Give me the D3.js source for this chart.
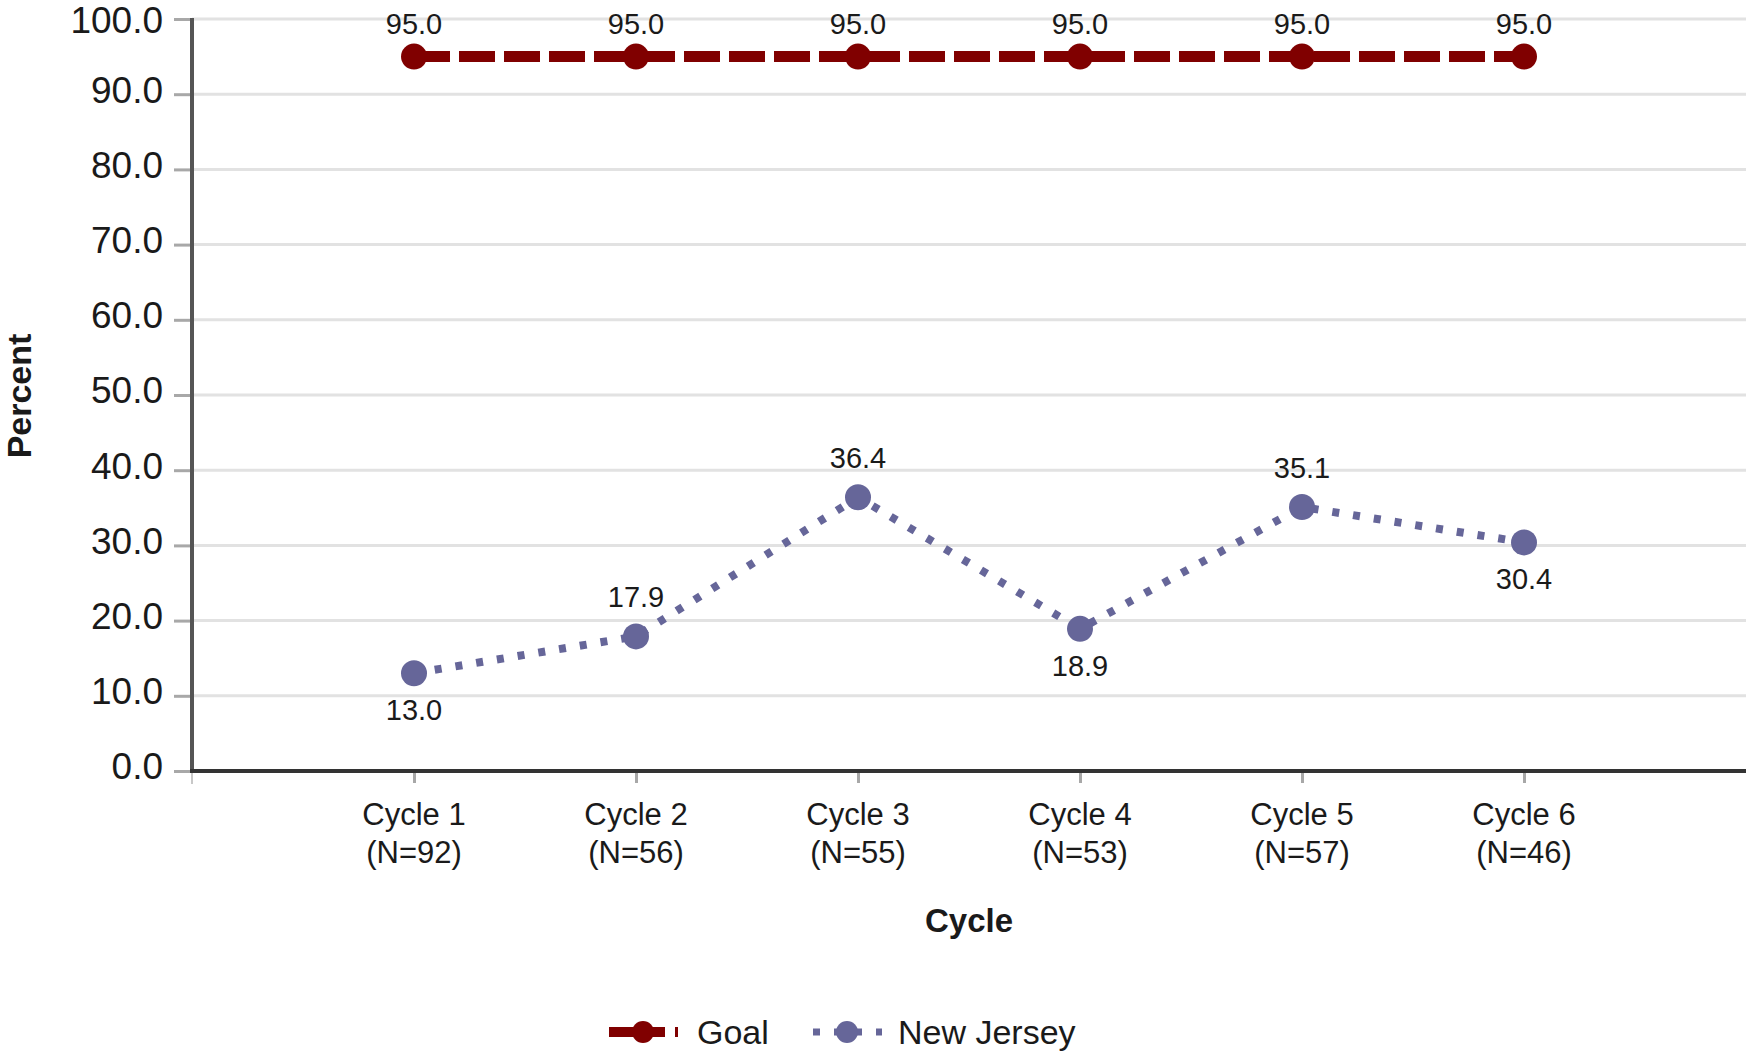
<!DOCTYPE html>
<html>
<head>
<meta charset="utf-8">
<script src="https://cdn.jsdelivr.net/npm/d3@7"></script>
<style>
  body { margin: 0; background: #fff; }
  text { font-family: "Liberation Sans", Arial, sans-serif; fill: #1a1a1a; }
</style>
</head>
<body>
<div id="chart"></div>
<script>
// chart data
var cycles = ["Cycle 1", "Cycle 2", "Cycle 3", "Cycle 4", "Cycle 5", "Cycle 6"];
var counts = ["(N=92)", "(N=56)", "(N=55)", "(N=53)", "(N=57)", "(N=46)"];
var goalValues = [95.0, 95.0, 95.0, 95.0, 95.0, 95.0];
var njValues = [13.0, 17.9, 36.4, 18.9, 35.1, 30.4];
var njLabelPos = ["below", "above", "above", "below", "above", "below"];
var yTicks = [0, 10, 20, 30, 40, 50, 60, 70, 80, 90, 100];

var W = 1746, H = 1051;
var margin = { top: 19, left: 192, right: 0, bottom: 277 };

var svg = d3.select("#chart").append("svg")
    .attr("width", W).attr("height", H);

var x = d3.scalePoint()
    .domain(cycles)
    .range([margin.left, W - margin.right])
    .padding(1);

var y = d3.scaleLinear()
    .domain([0, 100])
    .range([H - margin.bottom - 3, margin.top]);

// gridlines
svg.append("g").selectAll("line")
    .data(yTicks.filter(d => d > 0))
    .enter().append("line")
    .attr("x1", margin.left).attr("x2", W)
    .attr("y1", d => y(d)).attr("y2", d => y(d))
    .attr("stroke", "#e2e2e2").attr("stroke-width", 3);

// y axis
var yAxis = svg.append("g")
    .attr("transform", "translate(" + margin.left + ",0)")
    .call(d3.axisLeft(y).tickValues(yTicks).tickFormat(d3.format(".1f")).tickSize(18).tickPadding(11));
yAxis.select(".domain").remove();
yAxis.selectAll(".tick line").attr("stroke", "#a8a8a8").attr("stroke-width", 3);
yAxis.selectAll(".tick text")
    .attr("font-size", 37).attr("dy", "0.32em")
    .attr("y", d => d === 100 ? 2 : -4)
    .style("font-family", "'Liberation Sans', Arial, sans-serif").attr("fill", "#1a1a1a");
svg.append("line")
    .attr("x1", margin.left).attr("x2", margin.left)
    .attr("y1", y(100) - 1).attr("y2", y(0))
    .attr("stroke", "#555").attr("stroke-width", 4);

// x axis
var xAxis = svg.append("g")
    .attr("transform", "translate(0," + y(0) + ")")
    .call(d3.axisBottom(x).tickSize(12).tickFormat(""));
xAxis.select(".domain").remove();
xAxis.selectAll(".tick line").attr("stroke", "#a8a8a8").attr("stroke-width", 3);
svg.append("line")
    .attr("x1", margin.left).attr("x2", margin.left)
    .attr("y1", y(0)).attr("y2", y(0) + 13)
    .attr("stroke", "#c8c8c8").attr("stroke-width", 2);
svg.append("line")
    .attr("x1", margin.left - 2).attr("x2", W)
    .attr("y1", y(0)).attr("y2", y(0))
    .attr("stroke", "#333").attr("stroke-width", 4);

var xl = svg.append("g").selectAll("text")
    .data(cycles)
    .enter().append("text")
    .attr("text-anchor", "middle")
    .attr("font-size", 31)
    .attr("x", d => x(d))
    .attr("y", 825);
xl.append("tspan").attr("x", d => x(d)).text(d => d);
xl.append("tspan").attr("x", d => x(d)).attr("dy", 38).text((d, i) => counts[i]);

// axis titles
svg.append("text")
    .attr("x", (margin.left + W) / 2).attr("y", 932)
    .attr("text-anchor", "middle")
    .attr("font-size", 33).attr("font-weight", "bold")
    .text("Cycle");
svg.append("text")
    .attr("transform", "translate(31," + (y(50) + 1) + ") rotate(-90)")
    .attr("text-anchor", "middle")
    .attr("font-size", 34).attr("font-weight", "bold")
    .text("Percent");

var line = d3.line()
    .x((d, i) => x(cycles[i]))
    .y(d => y(d));

var goalColor = "#800000", njColor = "#666699";

// Goal series
svg.append("path")
    .datum(goalValues)
    .attr("d", line)
    .attr("fill", "none")
    .attr("stroke", goalColor).attr("stroke-width", 11)
    .attr("stroke-dasharray", "36,9");
svg.append("g").selectAll("circle")
    .data(goalValues)
    .enter().append("circle")
    .attr("cx", (d, i) => x(cycles[i])).attr("cy", d => y(d))
    .attr("r", 13).attr("fill", goalColor);
svg.append("g").selectAll("text")
    .data(goalValues)
    .enter().append("text")
    .attr("x", (d, i) => x(cycles[i])).attr("y", d => y(d) - 23)
    .attr("text-anchor", "middle").attr("font-size", 29)
    .text(d => d.toFixed(1));

// New Jersey series
svg.append("path")
    .datum(njValues)
    .attr("d", line)
    .attr("fill", "none")
    .attr("stroke", njColor).attr("stroke-width", 8)
    .attr("stroke-dasharray", "7,14");
svg.append("g").selectAll("circle")
    .data(njValues)
    .enter().append("circle")
    .attr("cx", (d, i) => x(cycles[i])).attr("cy", d => y(d))
    .attr("r", 13).attr("fill", njColor);
svg.append("g").selectAll("text")
    .data(njValues)
    .enter().append("text")
    .attr("x", (d, i) => x(cycles[i]))
    .attr("y", (d, i) => njLabelPos[i] === "above" ? y(d) - 29 : y(d) + 47)
    .attr("text-anchor", "middle").attr("font-size", 29)
    .text(d => d.toFixed(1));

// legend
var legend = svg.append("g").attr("transform", "translate(0,1032)");
var items = [
    { name: "Goal", color: goalColor, width: 10, dash: "56,10,4", x0: 609, tx: 697 },
    { name: "New Jersey", color: njColor, width: 7, dash: "7,14", x0: 813, tx: 898 }
];
items.forEach(function(it) {
    legend.append("line")
        .attr("x1", it.x0).attr("x2", it.x0 + 69)
        .attr("y1", 0).attr("y2", 0)
        .attr("stroke", it.color).attr("stroke-width", it.width)
        .attr("stroke-dasharray", it.dash);
    legend.append("circle")
        .attr("cx", it.x0 + 34).attr("cy", 0).attr("r", 11)
        .attr("fill", it.color);
    legend.append("text")
        .attr("x", it.tx).attr("y", 12)
        .attr("font-size", 34)
        .text(it.name);
});
</script>
</body>
</html>
